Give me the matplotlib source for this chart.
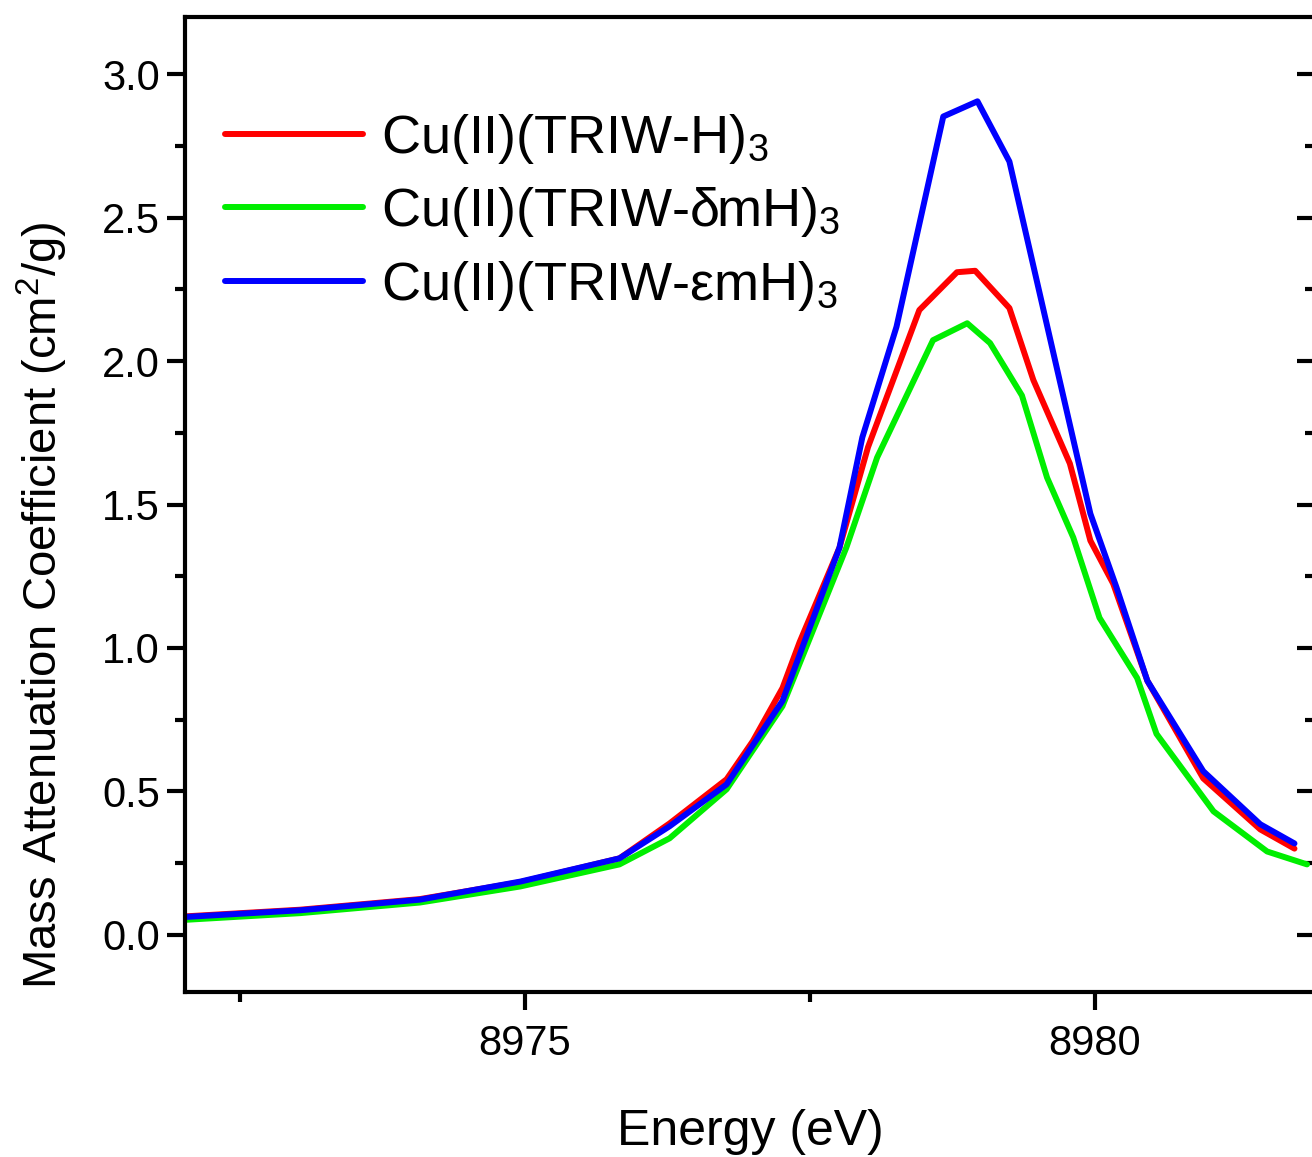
import numpy as np
import matplotlib.pyplot as plt
from matplotlib.ticker import MultipleLocator

plt.rcParams['font.family'] = ['Liberation Sans', 'DejaVu Sans']
plt.rcParams['mathtext.fontset'] = 'custom'
plt.rcParams['mathtext.rm'] = 'Liberation Sans'
plt.rcParams['mathtext.it'] = 'Liberation Sans'

# Cu(II)(TRIW-H)3
energy_h = [8971.95, 8973.03, 8974.08, 8974.96, 8975.83, 8976.27, 8976.77, 8977.00,
            8977.26, 8977.41, 8977.76, 8978.01, 8978.46, 8978.79, 8978.95, 8979.25,
            8979.46, 8979.78, 8979.96, 8980.16, 8980.46, 8980.95, 8981.45, 8981.75]
mu_h = [0.062, 0.087, 0.124, 0.183, 0.266, 0.388, 0.542, 0.675,
        0.86, 1.02, 1.35, 1.70, 2.178, 2.31, 2.315, 2.185,
        1.934, 1.643, 1.374, 1.224, 0.885, 0.545, 0.367, 0.30]

# Cu(II)(TRIW-δmH)3
energy_d = [8971.95, 8973.03, 8974.08, 8974.96, 8975.83, 8976.27, 8976.77, 8977.26,
            8977.82, 8978.09, 8978.58, 8978.88, 8979.08, 8979.36, 8979.58, 8979.81,
            8980.04, 8980.37, 8980.54, 8981.04, 8981.51, 8981.86]
mu_d = [0.05, 0.075, 0.112, 0.168, 0.245, 0.336, 0.507, 0.797,
        1.35, 1.664, 2.073, 2.132, 2.063, 1.88, 1.594, 1.385,
        1.105, 0.895, 0.70, 0.43, 0.29, 0.245]

# Cu(II)(TRIW-εmH)3
energy_e = [8971.95, 8973.03, 8974.08, 8974.96, 8975.83, 8976.27, 8976.77, 8977.26,
            8977.76, 8977.96, 8978.26, 8978.67, 8978.97, 8979.25, 8979.69, 8979.96,
            8980.19, 8980.46, 8980.95, 8981.45, 8981.75]
mu_e = [0.06, 0.085, 0.122, 0.185, 0.266, 0.378, 0.524, 0.815,
        1.35, 1.734, 2.12, 2.853, 2.906, 2.696, 1.934, 1.468,
        1.21, 0.885, 0.57, 0.385, 0.318]

labels = ["Cu(II)(TRIW-H)$_3$", "Cu(II)(TRIW-δmH)$_3$", "Cu(II)(TRIW-εmH)$_3$"]
colors = ["#ff0000", "#00ee00", "#0000ff"]

fig = plt.figure(figsize=(13.12, 11.57), dpi=100)
ax = fig.add_axes([185 / 1312, 1 - 992 / 1157, 1130 / 1312, 975 / 1157])

for x, y, lab, c in zip([energy_h, energy_d, energy_e], [mu_h, mu_d, mu_e], labels, colors):
    ax.plot(x, y, color=c, lw=4.3, label=lab, solid_capstyle='round', solid_joinstyle='round')

ax.set_xlim(8972.02, 8981.93)
ax.set_ylim(-0.2, 3.2)
ax.xaxis.set_major_locator(MultipleLocator(5))
ax.xaxis.set_minor_locator(MultipleLocator(2.5))
ax.yaxis.set_major_locator(MultipleLocator(0.5))
ax.yaxis.set_minor_locator(MultipleLocator(0.25))
ax.yaxis.set_major_formatter(lambda v, p: f"{v:.1f}")

for s in ax.spines.values():
    s.set_linewidth(3)

ax.tick_params(which='both', direction='out', width=3, top=False, right=False, labelsize=30)
ax.tick_params(which='major', length=13)
ax.tick_params(which='minor', length=7)
ax.tick_params(axis='x', pad=10)
ax.tick_params(axis='y', pad=5)

# right side: inward ticks, no labels
sec = ax.secondary_yaxis('right')
sec.yaxis.set_major_locator(MultipleLocator(0.5))
sec.yaxis.set_minor_locator(MultipleLocator(0.25))
sec.tick_params(which='both', direction='in', width=3, labelright=False)
sec.tick_params(which='major', length=13)
sec.tick_params(which='minor', length=7)
sec.spines['right'].set_linewidth(3)

ax.set_xlabel("Energy (eV)", fontsize=36)
ax.xaxis.set_label_coords(0.50, -0.120)
ax.set_ylabel("Mass Attenuation Coefficient (cm$^2$/g)", fontsize=34)
ax.yaxis.set_label_coords(-0.102, 0.397)

ax.legend(loc='upper left', bbox_to_anchor=(0.016, 0.925), frameon=False, fontsize=39,
          handlelength=2.55, handletextpad=0.33, labelspacing=0.36, borderaxespad=0)

fig.savefig("out.png", dpi=100)
